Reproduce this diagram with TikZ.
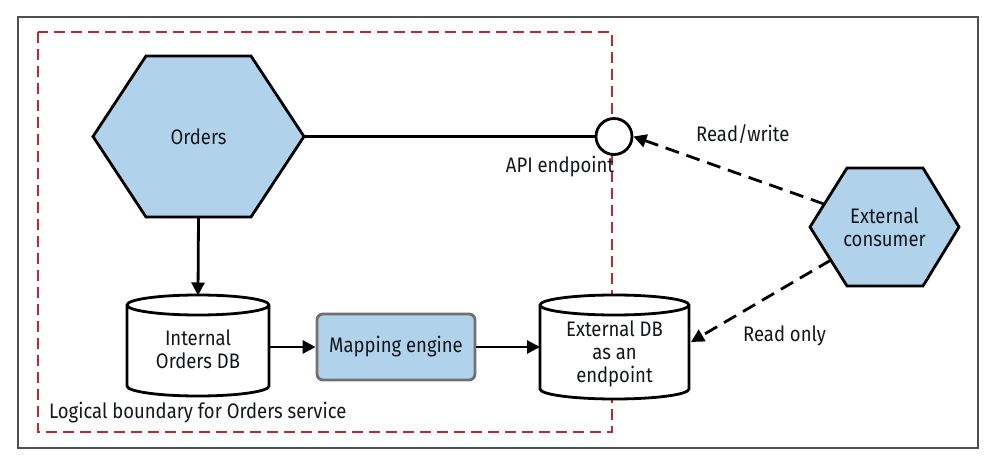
\documentclass[tikz,border=0pt]{standalone}
\usepackage{fontspec}
\setmainfont{Fira Sans}[FakeStretch=0.88]
\usetikzlibrary{arrows.meta}
\definecolor{hexblue}{RGB}{176,210,234}
\definecolor{bred}{RGB}{192,40,48}
\definecolor{ink}{RGB}{20,22,30}
\definecolor{framegray}{RGB}{80,80,80}
\definecolor{boxgray}{RGB}{112,112,112}
\tikzset{
  hex/.style={draw=black, fill=hexblue, line width=2.8pt, line join=miter},
  db/.style={draw=black, fill=white, line width=2.8pt},
  lbl/.style={font=\fontsize{21}{23}\selectfont, text=ink, inner sep=0pt, align=center},
  arr/.style={line width=2.8pt, -{Triangle[length=13pt,width=13pt]}},
  darr/.style={arr, dash pattern=on 14pt off 8pt},
  boundary/.style={draw=bred, line width=2.6pt, dash pattern=on 11pt off 6pt},
  spot/.style={inner sep=0pt, outer sep=0pt}
}
\begin{document}
\begin{tikzpicture}[x=1pt,y=-1pt]
\useasboundingbox (0,0) rectangle (996,462);
% outer frame
\draw[framegray, line width=1.2pt] (18,17) rectangle (978,448);
% logical boundary
\draw[boundary] (38,32) rectangle (612,432);
\node[lbl, anchor=base west] (boundlbl) at (49,418) {Logical boundary for Orders service};

% Orders hexagon
\draw[hex] (146,56) -- (251,56) -- (304,136.5) -- (251,217) -- (146,217) -- (93,136.5) -- cycle;
\node[spot, lbl, minimum width=211pt, minimum height=161pt] (orders) at (198.5,136.5) {Orders};

% External consumer hexagon
\draw[hex] (847,168) -- (923,168) -- (959,227) -- (923,286) -- (847,286) -- (810,227) -- cycle;
\node[spot, lbl, minimum width=149pt, minimum height=118pt] (ec) at (884.5,227) {External\\consumer};
\coordinate (ecrw) at (824,204);
\coordinate (ecro) at (831,260);

% API endpoint
\node[circle, draw=black, fill=white, line width=2.8pt, minimum size=36pt, inner sep=0pt] (api) at (614,136.5) {};
\node[lbl] (apilbl) at (560,167) {API endpoint};
\draw[line width=2.8pt] (orders.east) -- (api.west);

% Internal Orders DB cylinder
\draw[db] (127,305) -- (127,386) arc[start angle=180,end angle=0,x radius=71,y radius=10]
  -- (269,305) arc[start angle=0,end angle=-180,x radius=71,y radius=10] -- cycle;
\draw[line width=2.8pt] (127,305) arc[start angle=180,end angle=0,x radius=71,y radius=10];
\node[spot, lbl, minimum width=142pt, minimum height=101pt] (intdb) at (198,346) {};
\node[lbl] (intdbt) at (198,349) {Internal\\Orders DB};

% External DB cylinder
\draw[db] (540,305) -- (540,389) arc[start angle=180,end angle=0,x radius=74.5,y radius=10]
  -- (689,305) arc[start angle=0,end angle=-180,x radius=74.5,y radius=10] -- cycle;
\draw[line width=2.8pt] (540,305) arc[start angle=180,end angle=0,x radius=74.5,y radius=10];
\node[spot, minimum width=149pt, minimum height=104pt] (extdb) at (614.5,347) {};
\node[lbl] (extdbt) at (614.5,354) {External DB\\as an\\endpoint};

% Mapping engine
\node[lbl, draw=boxgray, fill=hexblue, line width=2.8pt, rounded corners=6pt,
      minimum width=158pt, minimum height=66pt] (map) at (396,347) {Mapping engine};

% connectors
\draw[arr] (orders.south) -- (intdb.north);
\draw[arr] (intdb.east |- map.west) -- (map.west);
\draw[arr] (map.east) -- (map.east -| extdb.west);
\draw[darr] (ecrw) -- (api.east);
\draw[darr] (ecro) -- ([xshift=2pt,yshift=5pt]extdb.east);

% arrow labels
\node[lbl, anchor=west] (rwlbl) at (696,134) {Read/write};
\node[lbl, anchor=west] (rolbl) at (743,336) {Read only};
\end{tikzpicture}
\end{document}
